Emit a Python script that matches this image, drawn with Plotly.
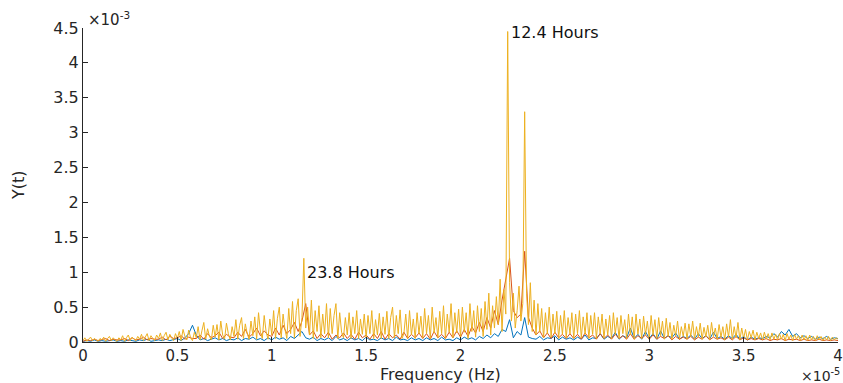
import numpy as np
import plotly.graph_objects as go

# Frequency grid steps (units of 1e-5 Hz)
F_STEP_YELLOW = 0.01
F_STEP_OTHER = 0.02

# Amplitude values in units of 1e-3
yellow_vals = [
    0.02, 0.06, 0.01, 0.04, 0.07, 0.02, 0.05, 0.03, 0.01, 0.05,
    0.03, 0.07, 0.01, 0.05, 0.08, 0.02, 0.06, 0.03, 0.01, 0.06,
    0.03, 0.09, 0.01, 0.06, 0.10, 0.02, 0.07, 0.04, 0.02, 0.08,
    0.04, 0.11, 0.02, 0.07, 0.12, 0.02, 0.09, 0.05, 0.02, 0.10,
    0.05, 0.13, 0.02, 0.09, 0.14, 0.03, 0.11, 0.06, 0.02, 0.12,
    0.05, 0.15, 0.02, 0.18, 0.08, 0.03, 0.17, 0.06, 0.02, 0.14,
    0.06, 0.22, 0.03, 0.16, 0.28, 0.04, 0.19, 0.08, 0.03, 0.24,
    0.07, 0.25, 0.03, 0.30, 0.10, 0.04, 0.27, 0.12, 0.03, 0.22,
    0.08, 0.32, 0.04, 0.24, 0.35, 0.05, 0.26, 0.12, 0.04, 0.30,
    0.09, 0.36, 0.04, 0.42, 0.14, 0.05, 0.38, 0.15, 0.04, 0.33,
    0.10, 0.45, 0.05, 0.34, 0.50, 0.06, 0.40, 0.18, 0.05, 0.48,
    0.12, 0.58, 0.06, 0.45, 0.62, 0.08, 0.35, 1.20, 0.20, 0.50,
    0.10, 0.60, 0.05, 0.45, 0.15, 0.52, 0.06, 0.40, 0.12, 0.55,
    0.06, 0.48, 0.12, 0.38, 0.55, 0.05, 0.42, 0.14, 0.06, 0.35,
    0.10, 0.42, 0.05, 0.36, 0.12, 0.45, 0.05, 0.33, 0.11, 0.40,
    0.06, 0.38, 0.12, 0.45, 0.05, 0.32, 0.10, 0.41, 0.05, 0.36,
    0.11, 0.44, 0.05, 0.35, 0.50, 0.06, 0.38, 0.12, 0.46, 0.05,
    0.12, 0.40, 0.05, 0.45, 0.10, 0.33, 0.05, 0.42, 0.12, 0.37,
    0.06, 0.48, 0.12, 0.38, 0.05, 0.50, 0.13, 0.35, 0.06, 0.44,
    0.12, 0.52, 0.05, 0.40, 0.14, 0.55, 0.06, 0.42, 0.13, 0.47,
    0.06, 0.50, 0.14, 0.42, 0.05, 0.55, 0.15, 0.45, 0.07, 0.52,
    0.15, 0.48, 0.08, 0.58, 0.18, 0.70, 0.10, 0.52, 0.20, 0.65,
    0.25, 0.90, 0.15, 0.75, 0.40, 4.45, 0.85, 0.30, 0.70, 0.20,
    0.45, 0.80, 0.30, 0.55, 3.30, 0.70, 0.25, 0.85, 0.15, 0.60,
    0.10, 0.55, 0.14, 0.48, 0.06, 0.42, 0.12, 0.50, 0.07, 0.40,
    0.12, 0.44, 0.05, 0.38, 0.11, 0.45, 0.06, 0.35, 0.12, 0.42,
    0.05, 0.40, 0.12, 0.45, 0.06, 0.36, 0.11, 0.42, 0.05, 0.38,
    0.11, 0.42, 0.05, 0.36, 0.12, 0.40, 0.05, 0.33, 0.10, 0.38,
    0.05, 0.42, 0.11, 0.35, 0.05, 0.38, 0.12, 0.32, 0.05, 0.40,
    0.10, 0.36, 0.04, 0.40, 0.11, 0.33, 0.05, 0.37, 0.10, 0.30,
    0.04, 0.38, 0.10, 0.32, 0.05, 0.35, 0.09, 0.30, 0.04, 0.34,
    0.08, 0.28, 0.04, 0.24, 0.09, 0.30, 0.04, 0.22, 0.08, 0.27,
    0.04, 0.26, 0.08, 0.30, 0.04, 0.22, 0.07, 0.27, 0.04, 0.21,
    0.07, 0.24, 0.03, 0.28, 0.08, 0.20, 0.04, 0.25, 0.07, 0.22,
    0.03, 0.26, 0.07, 0.32, 0.04, 0.22, 0.06, 0.28, 0.03, 0.20,
    0.05, 0.18, 0.03, 0.15, 0.06, 0.17, 0.03, 0.14, 0.05, 0.13,
    0.03, 0.14, 0.04, 0.12, 0.03, 0.13, 0.04, 0.11, 0.03, 0.12,
    0.04, 0.11, 0.02, 0.12, 0.04, 0.10, 0.02, 0.11, 0.04, 0.09,
    0.02, 0.10, 0.03, 0.09, 0.02, 0.10, 0.03, 0.08, 0.02, 0.09,
    0.03, 0.08, 0.02, 0.07, 0.03, 0.08, 0.02, 0.07, 0.03, 0.06,
    0.04,
]

orange_vals = [
    0.01, 0.03, 0.02, 0.04, 0.02, 0.03, 0.05, 0.02, 0.04, 0.03,
    0.03, 0.05, 0.02, 0.06, 0.03, 0.04, 0.07, 0.03, 0.05, 0.04,
    0.04, 0.07, 0.03, 0.08, 0.05, 0.06, 0.09, 0.04, 0.07, 0.05,
    0.05, 0.10, 0.04, 0.12, 0.06, 0.09, 0.14, 0.05, 0.11, 0.07,
    0.06, 0.14, 0.08, 0.18, 0.07, 0.12, 0.20, 0.09, 0.16, 0.10,
    0.08, 0.20, 0.10, 0.24, 0.12, 0.18, 0.28, 0.15, 0.30, 0.55,
    0.10, 0.16, 0.05, 0.12, 0.06, 0.14, 0.04, 0.10, 0.06, 0.13,
    0.05, 0.11, 0.04, 0.14, 0.06, 0.10, 0.04, 0.12, 0.05, 0.15,
    0.04, 0.12, 0.06, 0.10, 0.04, 0.14, 0.05, 0.11, 0.06, 0.13,
    0.05, 0.12, 0.04, 0.15, 0.06, 0.11, 0.05, 0.14, 0.06, 0.16,
    0.07, 0.18, 0.08, 0.22, 0.13, 0.28, 0.15, 0.35, 0.20, 0.45,
    0.25, 0.60, 0.90, 1.20, 0.45, 0.35, 0.40, 1.30, 0.35, 0.20,
    0.10, 0.16, 0.06, 0.13, 0.05, 0.14, 0.06, 0.11, 0.05, 0.12,
    0.05, 0.11, 0.04, 0.13, 0.06, 0.10, 0.04, 0.12, 0.05, 0.10,
    0.04, 0.11, 0.05, 0.09, 0.04, 0.12, 0.04, 0.09, 0.05, 0.10,
    0.04, 0.10, 0.04, 0.08, 0.05, 0.09, 0.03, 0.08, 0.04, 0.07,
    0.04, 0.08, 0.03, 0.07, 0.04, 0.09, 0.03, 0.07, 0.04, 0.06,
    0.03, 0.07, 0.03, 0.08, 0.03, 0.06, 0.03, 0.05, 0.03, 0.05,
    0.03, 0.05, 0.02, 0.04, 0.03, 0.05, 0.02, 0.04, 0.03, 0.04,
    0.02, 0.04, 0.02, 0.03, 0.02, 0.04, 0.02, 0.03, 0.02, 0.03,
    0.02,
]

blue_vals = [
    0.01, 0.02, 0.01, 0.03, 0.01, 0.02, 0.01, 0.02, 0.03, 0.01,
    0.02, 0.01, 0.03, 0.02, 0.01, 0.03, 0.02, 0.04, 0.01, 0.02,
    0.03, 0.02, 0.04, 0.02, 0.03, 0.05, 0.02, 0.06, 0.12, 0.24,
    0.10, 0.03, 0.05, 0.02, 0.04, 0.06, 0.03, 0.05, 0.02, 0.04,
    0.03, 0.06, 0.02, 0.05, 0.04, 0.07, 0.03, 0.05, 0.02, 0.06,
    0.03, 0.07, 0.04, 0.06, 0.02, 0.08, 0.05, 0.10, 0.15, 0.06,
    0.04, 0.07, 0.02, 0.05, 0.03, 0.06, 0.02, 0.08, 0.03, 0.05,
    0.02, 0.06, 0.03, 0.05, 0.02, 0.07, 0.03, 0.04, 0.02, 0.06,
    0.03, 0.05, 0.02, 0.07, 0.03, 0.04, 0.02, 0.06, 0.03, 0.05,
    0.02, 0.06, 0.03, 0.05, 0.02, 0.07, 0.03, 0.04, 0.02, 0.06,
    0.03, 0.07, 0.04, 0.06, 0.03, 0.08, 0.05, 0.10, 0.06, 0.12,
    0.08, 0.18, 0.15, 0.32, 0.06, 0.15, 0.10, 0.35, 0.07, 0.05,
    0.04, 0.08, 0.03, 0.06, 0.05, 0.09, 0.03, 0.07, 0.04, 0.06,
    0.03, 0.07, 0.04, 0.10, 0.03, 0.06, 0.05, 0.12, 0.04, 0.08,
    0.05, 0.14, 0.04, 0.09, 0.06, 0.20, 0.05, 0.11, 0.04, 0.15,
    0.05, 0.12, 0.04, 0.16, 0.05, 0.09, 0.06, 0.13, 0.04, 0.08,
    0.05, 0.10, 0.04, 0.12, 0.05, 0.09, 0.04, 0.14, 0.05, 0.08,
    0.04, 0.09, 0.05, 0.11, 0.04, 0.08, 0.03, 0.07, 0.04, 0.06,
    0.05, 0.08, 0.06, 0.12, 0.07, 0.15, 0.10, 0.18, 0.08, 0.12,
    0.06, 0.09, 0.05, 0.08, 0.04, 0.07, 0.05, 0.08, 0.04, 0.06,
    0.05,
]

x_ticks = [0, 0.5, 1, 1.5, 2, 2.5, 3, 3.5, 4]
x_tick_labels = ["0", "0.5", "1", "1.5", "2", "2.5", "3", "3.5", "4"]
y_ticks = [0, 0.5, 1, 1.5, 2, 2.5, 3, 3.5, 4, 4.5]
y_tick_labels = ["0", "0.5", "1", "1.5", "2", "2.5", "3", "3.5", "4", "4.5"]

peak_labels = ["12.4 Hours", "23.8 Hours"]
peak_x = [2.25, 1.17]
peak_y = [4.43, 1.0]

freq_yellow = np.arange(len(yellow_vals)) * F_STEP_YELLOW
freq_other = np.arange(len(orange_vals)) * F_STEP_OTHER

FONT = "DejaVu Sans"
TXT = "#262626"

fig = go.Figure()
fig.add_trace(go.Scatter(x=freq_other, y=blue_vals, mode="lines",
                         line=dict(color="#0072BD", width=1)))
fig.add_trace(go.Scatter(x=freq_other, y=orange_vals, mode="lines",
                         line=dict(color="#D95319", width=1)))
fig.add_trace(go.Scatter(x=freq_yellow, y=yellow_vals, mode="lines",
                         line=dict(color="#EDB120", width=1)))

for lab, px, py in zip(peak_labels, peak_x, peak_y):
    fig.add_annotation(x=px, y=py, xref="x", yref="y", text=lab, showarrow=False,
                       xanchor="left", yanchor="middle", xshift=1,
                       font=dict(family=FONT, size=16, color="#111111"))

fig.add_annotation(x=0.473, y=-0.102, xref="paper", yref="paper", text="Frequency (Hz)",
                   showarrow=False, xanchor="center", yanchor="middle",
                   font=dict(family=FONT, size=16, color=TXT))
fig.add_annotation(x=-0.086, y=0.5, xref="paper", yref="paper", text="Y(t)",
                   showarrow=False, textangle=-90, xanchor="center", yanchor="middle",
                   font=dict(family=FONT, size=16, color=TXT))
fig.add_annotation(x=1.005, y=-0.106, xref="paper", yref="paper", text="×10<sup>-5</sup>",
                   showarrow=False, xanchor="right", yanchor="middle",
                   font=dict(family=FONT, size=14, color=TXT))
fig.add_annotation(x=0.004, y=1.03, xref="paper", yref="paper", text="×10<sup>-3</sup>",
                   showarrow=False, xanchor="left", yanchor="middle",
                   font=dict(family=FONT, size=15, color=TXT))

fig.update_layout(
    width=843, height=383,
    margin=dict(l=83, r=5, t=28, b=41),
    paper_bgcolor="white", plot_bgcolor="white",
    showlegend=False,
    font=dict(family=FONT, size=16, color=TXT),
    xaxis=dict(range=[0, 4], tickvals=x_ticks, ticktext=x_tick_labels,
               showline=True, linecolor=TXT, linewidth=1, ticks="inside", ticklen=5,
               tickcolor=TXT, showgrid=False, zeroline=False, mirror=False,
               ticklabeloverflow="allow", automargin=False,
               tickfont=dict(family=FONT, size=15, color=TXT)),
    yaxis=dict(range=[0, 4.5], tickvals=y_ticks, ticktext=y_tick_labels,
               showline=True, linecolor=TXT, linewidth=1, ticks="inside", ticklen=5,
               tickcolor=TXT, showgrid=False, zeroline=False, mirror=False,
               automargin=False,
               tickfont=dict(family=FONT, size=16, color=TXT)),
)

fig.write_html("out.html")
